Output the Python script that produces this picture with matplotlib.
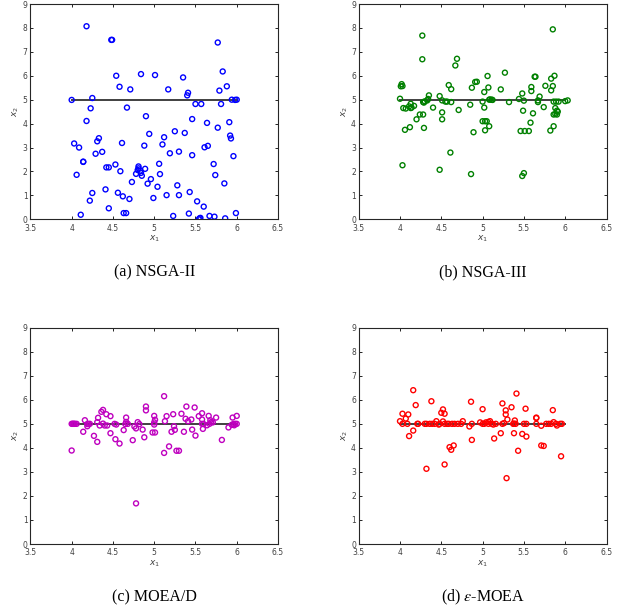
import matplotlib
matplotlib.use("Agg")
import matplotlib.pyplot as plt

# ---- data (x1, x2) ----
nsga2_x = [4.18, 4.48, 4.49, 4.54, 4.84, 5.01, 4.58, 4.71, 5.17, 4.00, 4.25, 4.23, 4.67, 4.90,
           4.18, 5.25, 4.94, 4.33, 5.12, 4.03, 4.09, 4.31, 4.61, 4.88, 5.10, 4.37, 4.29, 5.19,
           5.30, 4.14, 4.14, 4.53, 4.42, 4.45, 5.06, 4.89, 4.81, 4.81, 4.80, 4.83, 4.59, 4.78,
           4.84, 4.85, 5.07, 4.06, 4.96, 4.73, 4.92, 5.04, 5.28, 4.41, 4.25, 4.56, 4.62, 4.70,
           4.22, 4.99, 5.15, 5.30, 4.45, 4.11, 4.63, 4.66, 5.23, 5.77, 5.83, 5.35, 5.79, 5.88,
           5.41, 5.40, 5.50, 5.57, 5.81, 5.94, 6.00, 5.98, 5.46, 5.64, 5.77, 5.91, 5.37, 5.92,
           5.93, 5.46, 5.61, 5.65, 5.96, 5.72, 5.74, 5.85, 5.43, 5.52, 5.60, 5.42, 5.55, 5.54,
           5.56, 5.67, 5.73, 5.86, 5.99]
nsga2_y = [8.07, 7.50, 7.50, 6.00, 6.07, 6.03, 5.54, 5.43, 5.43, 4.99, 5.07, 4.64, 4.67, 4.31,
           4.11, 3.68, 3.57, 3.39, 3.43, 3.17, 3.00, 3.26, 3.19, 3.08, 3.13, 2.82, 2.74, 2.76,
           2.83, 2.40, 2.41, 2.29, 2.17, 2.17, 2.32, 2.11, 2.21, 2.13, 2.06, 2.03, 2.01, 1.90,
           1.94, 1.82, 1.89, 1.86, 1.68, 1.56, 1.49, 1.36, 1.42, 1.25, 1.10, 1.11, 0.96, 0.85,
           0.78, 0.89, 1.01, 1.01, 0.46, 0.19, 0.26, 0.26, 0.14, 7.39, 6.18, 5.93, 5.38, 5.56,
           5.29, 5.18, 4.82, 4.82, 4.82, 5.00, 5.00, 4.99, 4.19, 4.03, 3.83, 4.06, 3.61, 3.50,
           3.38, 2.68, 3.01, 3.07, 2.64, 2.31, 1.85, 1.50, 1.14, 0.75, 0.53, 0.24, 0.04, 0.00,
           0.06, 0.14, 0.11, 0.04, 0.26]

nsga3_x = [4.27, 4.27, 4.69, 4.67, 4.02, 4.03, 4.01, 4.59, 4.62, 4.91, 4.93, 4.87, 5.02, 5.06,
           5.07, 4.00, 4.35, 4.34, 4.33, 4.30, 4.28, 4.29, 4.48, 4.51, 4.55, 4.57, 4.62, 5.00,
           5.08, 4.13, 4.11, 4.07, 4.04, 4.14, 4.17, 4.13, 4.40, 4.51, 4.24, 4.28, 4.20, 4.51,
           4.71, 4.85, 5.02, 4.06, 4.12, 4.29, 4.89, 5.00, 5.03, 5.05, 5.03, 5.08, 4.61, 4.03,
           4.48, 4.86, 5.85, 5.27, 5.63, 5.64, 5.87, 5.83, 5.22, 5.59, 5.59, 5.48, 5.76, 5.85,
           5.83, 5.69, 5.67, 5.67, 5.09, 5.11, 5.12, 5.32, 5.44, 5.50, 5.86, 5.89, 5.92, 6.00,
           6.03, 5.74, 5.88, 5.90, 5.88, 5.90, 5.86, 5.91, 5.49, 5.61, 5.58, 5.46, 5.51, 5.56,
           5.86, 5.82, 5.50, 5.48]
nsga3_y = [7.68, 6.69, 6.71, 6.43, 5.65, 5.57, 5.56, 5.61, 5.44, 5.74, 5.75, 5.50, 5.32, 5.99,
           5.51, 5.04, 5.18, 5.03, 4.97, 4.93, 4.90, 4.88, 5.15, 4.97, 4.92, 4.92, 4.90, 4.92,
           5.00, 4.83, 4.72, 4.63, 4.65, 4.67, 4.74, 4.65, 4.67, 4.47, 4.38, 4.38, 4.18, 4.18,
           4.57, 4.79, 4.67, 3.74, 3.85, 3.82, 3.64, 4.10, 4.10, 4.10, 3.72, 3.89, 2.79, 2.26,
           2.07, 1.89, 7.94, 6.13, 5.96, 5.96, 6.00, 5.88, 5.43, 5.53, 5.36, 5.26, 5.58, 5.57,
           5.39, 5.13, 4.97, 4.90, 5.01, 5.00, 4.99, 4.90, 5.03, 4.96, 4.92, 4.92, 4.92, 4.94,
           4.97, 4.69, 4.65, 4.54, 4.40, 4.38, 4.38, 4.50, 4.54, 4.43, 4.04, 3.69, 3.69, 3.69,
           3.89, 3.71, 1.93, 1.81]

moead_x = [4.00, 4.01, 4.02, 4.03, 4.04, 4.06, 4.00, 4.16, 4.14, 4.19, 4.20, 4.22, 4.19, 4.27,
           4.31, 4.32, 4.31, 4.36, 4.38, 4.42, 4.47, 4.34, 4.38, 4.43, 4.40, 4.47, 4.52, 4.54,
           4.53, 4.58, 4.63, 4.66, 4.65, 4.66, 4.68, 4.74, 4.76, 4.78, 4.80, 4.82, 4.78, 4.86,
           4.88, 4.90, 4.90, 4.98, 5.01, 5.00, 5.00, 5.00, 5.01, 5.12, 5.15, 5.13, 5.23, 5.24,
           5.25, 5.21, 5.12, 5.18, 5.27, 5.30, 5.39, 5.49, 5.33, 5.38, 5.41, 5.45, 5.54, 5.58,
           5.58, 5.66, 5.58, 5.60, 5.59, 5.64, 5.67, 5.69, 5.68, 5.71, 5.75, 5.36, 5.46, 5.50,
           5.82, 5.90, 5.95, 6.00, 5.94, 5.96, 5.98, 6.00, 5.97]
moead_y = [5.00, 5.00, 5.00, 5.00, 5.00, 5.00, 3.89, 5.15, 4.67, 4.99, 5.00, 5.00, 4.90, 4.50,
           4.25, 5.25, 5.07, 5.50, 5.58, 5.40, 5.32, 4.93, 5.01, 4.93, 4.93, 4.61, 5.00, 4.97,
           4.36, 4.18, 4.74, 5.26, 4.99, 5.08, 5.00, 4.32, 4.89, 4.81, 5.07, 4.99, 1.69, 4.76,
           4.44, 5.72, 5.56, 4.64, 4.64, 5.06, 4.97, 5.33, 5.17, 6.15, 5.32, 5.11, 5.40, 4.90,
           4.75, 4.67, 3.79, 4.06, 3.88, 3.88, 5.72, 5.68, 5.42, 5.21, 5.11, 5.18, 5.32, 5.44,
           5.18, 5.33, 5.00, 4.99, 4.79, 4.94, 5.00, 5.07, 5.15, 5.06, 5.26, 4.67, 4.76, 4.51,
           4.33, 4.85, 5.26, 5.33, 4.96, 4.99, 5.00, 5.00, 4.94]

emoea_x = [4.16, 4.19, 4.38, 4.03, 4.10, 4.07, 4.00, 4.03, 4.09, 4.16, 4.11, 4.21, 4.22, 4.30,
           4.32, 4.36, 4.39, 4.42, 4.44, 4.47, 4.48, 4.52, 4.50, 4.54, 4.52, 4.54, 4.57, 4.59,
           4.63, 4.66, 4.70, 4.74, 4.76, 4.86, 4.87, 4.84, 4.87, 5.00, 4.97, 5.00, 5.02, 5.04,
           5.07, 4.60, 4.65, 4.62, 4.32, 4.54, 5.41, 5.24, 5.35, 5.28, 5.28, 5.30, 5.52, 5.65,
           5.65, 5.85, 5.86, 5.39, 5.38, 5.09, 5.07, 5.11, 5.13, 5.16, 5.24, 5.26, 5.37, 5.40,
           5.50, 5.53, 5.65, 5.71, 5.77, 5.80, 5.83, 5.89, 5.90, 5.94, 5.96, 5.22, 5.38, 5.48,
           5.53, 5.14, 5.43, 5.71, 5.74, 5.95, 5.29]
emoea_y = [6.40, 5.78, 5.94, 5.42, 5.39, 5.22, 5.11, 5.00, 5.00, 4.72, 4.49, 5.00, 5.00, 5.00,
           5.00, 5.00, 5.00, 5.00, 5.11, 4.97, 5.00, 5.60, 5.46, 5.42, 5.10, 5.00, 5.00, 5.00,
           5.00, 5.00, 5.00, 5.00, 5.11, 5.92, 5.00, 4.89, 4.33, 5.61, 5.06, 5.00, 5.00, 5.06,
           5.08, 4.03, 4.10, 3.92, 3.13, 3.31, 6.26, 5.85, 5.69, 5.56, 5.39, 5.18, 5.63, 5.24,
           5.26, 5.57, 5.07, 5.14, 5.01, 5.11, 5.00, 5.00, 4.97, 5.00, 5.00, 5.03, 5.00, 5.00,
           5.00, 5.00, 5.00, 4.92, 5.00, 5.00, 5.00, 5.00, 4.93, 5.00, 5.00, 4.61, 4.61, 4.58,
           4.47, 4.39, 3.88, 4.10, 4.08, 3.65, 2.74]

# reference line x2 = 5 for x1 in [4, 6]
ref_x = [4, 6]
ref_y = [5, 5]

captions = ["(a) NSGA-II", "(b) NSGA-III", "(c) MOEA/D", r"(d) $\epsilon$-MOEA"]
colors = ["#0000ff", "#008000", "#bf00bf", "#ff0000"]
series = [(nsga2_x, nsga2_y), (nsga3_x, nsga3_y), (moead_x, moead_y), (emoea_x, emoea_y)]

W, H = 621, 608
fig = plt.figure(figsize=(W / 100, H / 100), dpi=100)

# axes boxes in pixels: left, right, top, bottom
boxes = [(30.4, 278.0, 4.0, 219.3), (358.7, 606.5, 4.0, 219.3),
         (30.4, 278.0, 327.7, 544.0), (358.7, 606.5, 327.7, 544.0)]
cap_base = [276, 276, 601, 601]

for i, (l, r, t, b) in enumerate(boxes):
    ax = fig.add_axes([l / W, 1 - b / H, (r - l) / W, (b - t) / H])
    ax.plot(ref_x, ref_y, color="#404040", lw=1.4, zorder=1)
    x, y = series[i]
    ax.scatter(x, y, s=13, facecolors="none", edgecolors=colors[i], linewidths=1.0, zorder=2)
    ax.set_xlim(3.5, 6.5)
    ax.set_ylim(0, 9)
    ax.set_xticks([3.5, 4, 4.5, 5, 5.5, 6, 6.5])
    ax.set_xticklabels(["3.5", "4", "4.5", "5", "5.5", "6", "6.5"])
    ax.set_yticks(range(10))
    ax.tick_params(direction="in", length=2, width=0.6, labelsize=5.5, labelcolor="#404040",
                   top=True, right=True)
    ax.tick_params(axis="x", pad=3.2)
    ax.tick_params(axis="y", pad=2.0)
    for sp in ax.spines.values():
        sp.set_linewidth(0.8)
        sp.set_color("#262626")
    ax.set_xlabel("$x_1$", fontsize=6.5, color="#404040", labelpad=0.5)
    ax.set_ylabel("$x_2$", fontsize=6.5, color="#404040", labelpad=1)
    fig.text((l + r) / 2 / W, 1 - cap_base[i] / H, captions[i], ha="center", va="baseline",
             fontsize=11.5, family="Liberation Serif", math_fontfamily="stix")

fig.savefig("out.png", dpi=100)
